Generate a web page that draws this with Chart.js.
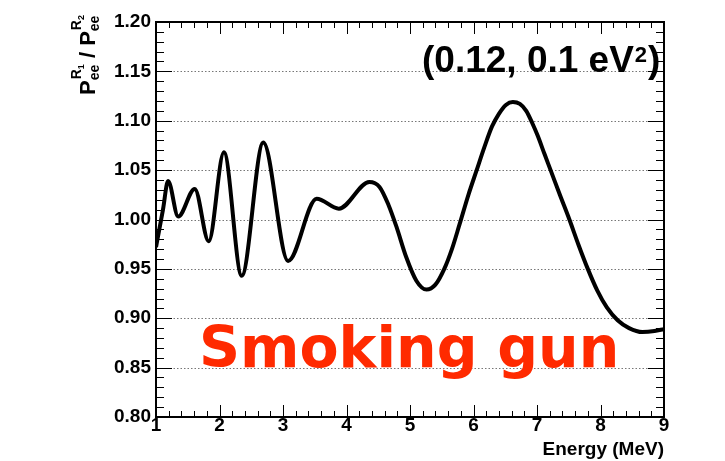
<!DOCTYPE html>
<html>
<head>
<meta charset="utf-8">
<script src="https://cdn.jsdelivr.net/npm/chart.js@4/dist/chart.umd.min.js"></script>
<style>
	html, body { margin: 0; padding: 0; background: #fff; }
	#wrap { width: 725px; height: 461px; }
</style>
</head>
<body>
<div id="wrap"><canvas id="ratioChart"></canvas></div>
<script>
// Energy (MeV) and ratio of survival probabilities at the two baselines
const energy = [
	1.00, 1.11, 1.19, 1.35, 1.61, 1.83, 2.07, 2.35, 2.69, 3.08, 3.53, 3.88, 4.36,
	4.52, 4.66, 4.79, 4.94, 5.10, 5.26, 5.40, 5.54, 5.66, 5.78, 5.92, 6.05, 6.17,
	6.29, 6.40, 6.51, 6.62, 6.73, 6.83, 6.93, 7.01, 7.12, 7.22, 7.36, 7.51, 7.65,
	7.80, 7.95, 8.10, 8.27, 8.45, 8.66, 8.85, 9.00
];
const ratio = [
	0.972, 1.010, 1.039, 1.003, 1.031, 0.978, 1.068, 0.943, 1.078, 0.958, 1.021, 1.011, 1.038,
	1.033, 1.015, 0.992, 0.962, 0.938, 0.929, 0.934, 0.950, 0.970, 0.995, 1.025, 1.050, 1.073,
	1.094, 1.107, 1.116, 1.119, 1.117, 1.110, 1.097, 1.085, 1.066, 1.049, 1.025, 1.000, 0.975,
	0.950, 0.928, 0.911, 0.898, 0.890, 0.886, 0.887, 0.889
];

const xMin = 1, xMax = 9, xStep = 1, xMinorStep = 0.2;
const yMin = 0.80, yMax = 1.20, yStep = 0.05, yMinorStep = 0.01;

const paramLabel = "(0.12, 0.1 eV";
const paramSup = "2";
const bigLabel = "Smoking gun";
const xTitle = "Energy (MeV)";

const FONT = '"Liberation Sans", Arial, Helvetica, sans-serif';

// ROOT-style frame: dotted horizontal grid, ticks drawn inside on all four sides
const rootFrame = {
	id: "rootFrame",
	beforeDatasetsDraw(chart) {
		const { ctx, chartArea: a, scales: { y } } = chart;
		ctx.save();
		ctx.strokeStyle = "#777";
		ctx.lineWidth = 1;
		ctx.setLineDash([1.5, 2]);
		y.ticks.forEach(t => {
			if (t.value <= yMin + 1e-6 || t.value >= yMax - 1e-6) return;
			const py = Math.round(y.getPixelForValue(t.value)) + 0.5;
			ctx.beginPath();
			ctx.moveTo(a.left, py);
			ctx.lineTo(a.right, py);
			ctx.stroke();
		});
		ctx.restore();
	},
	afterDatasetsDraw(chart) {
		const { ctx, chartArea: a, scales: { x, y } } = chart;
		ctx.save();
		ctx.strokeStyle = "#000";
		ctx.lineWidth = 1;

		// x ticks on bottom and top
		const nx = Math.round((xMax - xMin) / xMinorStep);
		for (let i = 0; i <= nx; i++) {
			const v = xMin + i * xMinorStep;
			const major = Math.abs(v - Math.round(v / xStep) * xStep) < 1e-6;
			const len = major ? 12 : 6;
			const px = Math.round(x.getPixelForValue(v)) + 0.5;
			ctx.beginPath();
			ctx.moveTo(px, a.bottom);
			ctx.lineTo(px, a.bottom - len);
			ctx.moveTo(px, a.top);
			ctx.lineTo(px, a.top + len);
			ctx.stroke();
		}
		// y ticks on left and right
		const ny = Math.round((yMax - yMin) / yMinorStep);
		for (let i = 0; i <= ny; i++) {
			const v = yMin + i * yMinorStep;
			const major = i % Math.round(yStep / yMinorStep) === 0;
			const len = major ? 16 : 8;
			const py = Math.round(y.getPixelForValue(v)) + 0.5;
			ctx.beginPath();
			ctx.moveTo(a.left, py);
			ctx.lineTo(a.left + len, py);
			ctx.moveTo(a.right, py);
			ctx.lineTo(a.right - len, py);
			ctx.stroke();
		}

		// frame
		ctx.lineWidth = 2;
		ctx.strokeRect(a.left, a.top, a.right - a.left, a.bottom - a.top);

		// parameter label, top right
		ctx.fillStyle = "#000";
		ctx.textBaseline = "alphabetic";
		ctx.textAlign = "left";
		let tx = 422;
		ctx.font = "bold 37px " + FONT;
		ctx.fillText(paramLabel, tx, 72);
		tx += ctx.measureText(paramLabel).width;
		ctx.font = "bold 22px " + FONT;
		ctx.fillText(paramSup, tx + 1, 62);
		tx += ctx.measureText(paramSup).width + 2;
		ctx.font = "bold 37px " + FONT;
		ctx.fillText(")", tx, 72);

		// red annotation
		ctx.fillStyle = "#ff2a00";
		ctx.font = 'bold 57px "DejaVu Sans", Verdana, sans-serif';
		ctx.fillText(bigLabel, 199, 367);

		// x axis title, right aligned
		ctx.fillStyle = "#000";
		ctx.textAlign = "right";
		ctx.font = "bold 19px " + FONT;
		ctx.fillText(xTitle, a.right, 455);

		// y axis title: P_ee^R1 / P_ee^R2
		ctx.translate(95, 95);
		ctx.rotate(-Math.PI / 2);
		ctx.textAlign = "left";
		let px = 0;
		const group = idx => {
			ctx.font = "bold 22px " + FONT;
			ctx.fillText("P", px, 0);
			px += ctx.measureText("P").width;
			ctx.font = "bold 14px " + FONT;
			ctx.fillText("ee", px, 4);
			const wSub = ctx.measureText("ee").width;
			ctx.font = "bold 14px " + FONT;
			ctx.fillText("R", px + 1, -14);
			const wR = ctx.measureText("R").width + 1;
			ctx.font = "bold 9px " + FONT;
			ctx.fillText(idx, px + wR, -11);
			const wI = ctx.measureText(idx).width;
			px += Math.max(wSub, wR + wI);
		};
		group("1");
		ctx.font = "bold 22px " + FONT;
		ctx.fillText(" / ", px, 0);
		px += ctx.measureText(" / ").width;
		group("2");

		ctx.restore();
	}
};

new Chart(document.getElementById("ratioChart"), {
	type: "line",
	data: {
		datasets: [{
			data: energy.map((e, i) => ({ x: e, y: ratio[i] })),
			borderColor: "#000",
			borderWidth: 4,
			pointRadius: 0,
			cubicInterpolationMode: "monotone",
			fill: false
		}]
	},
	options: {
		responsive: true,
		maintainAspectRatio: false,
		animation: false,
		events: [],
		layout: { padding: { left: 0, right: 61, top: 22, bottom: 0 } },
		scales: {
			x: {
				type: "linear",
				min: xMin,
				max: xMax,
				afterFit: s => { s.height = 44; },
				grid: { display: false, drawTicks: false, tickLength: 0 },
				border: { display: false },
				ticks: {
					stepSize: xStep,
					padding: -3,
					color: "#000",
					maxRotation: 0,
					font: { family: FONT, size: 19, weight: "bold" }
				}
			},
			y: {
				min: yMin,
				max: yMax,
				afterFit: s => { s.width = 156; },
				grid: { display: false, drawTicks: false, tickLength: 0 },
				border: { display: false },
				ticks: {
					stepSize: yStep,
					padding: 5,
					color: "#000",
					callback: v => v.toFixed(2),
					font: { family: FONT, size: 19, weight: "bold" }
				}
			}
		},
		plugins: {
			legend: { display: false },
			tooltip: { enabled: false }
		}
	},
	plugins: [rootFrame]
});
</script>
</body>
</html>
